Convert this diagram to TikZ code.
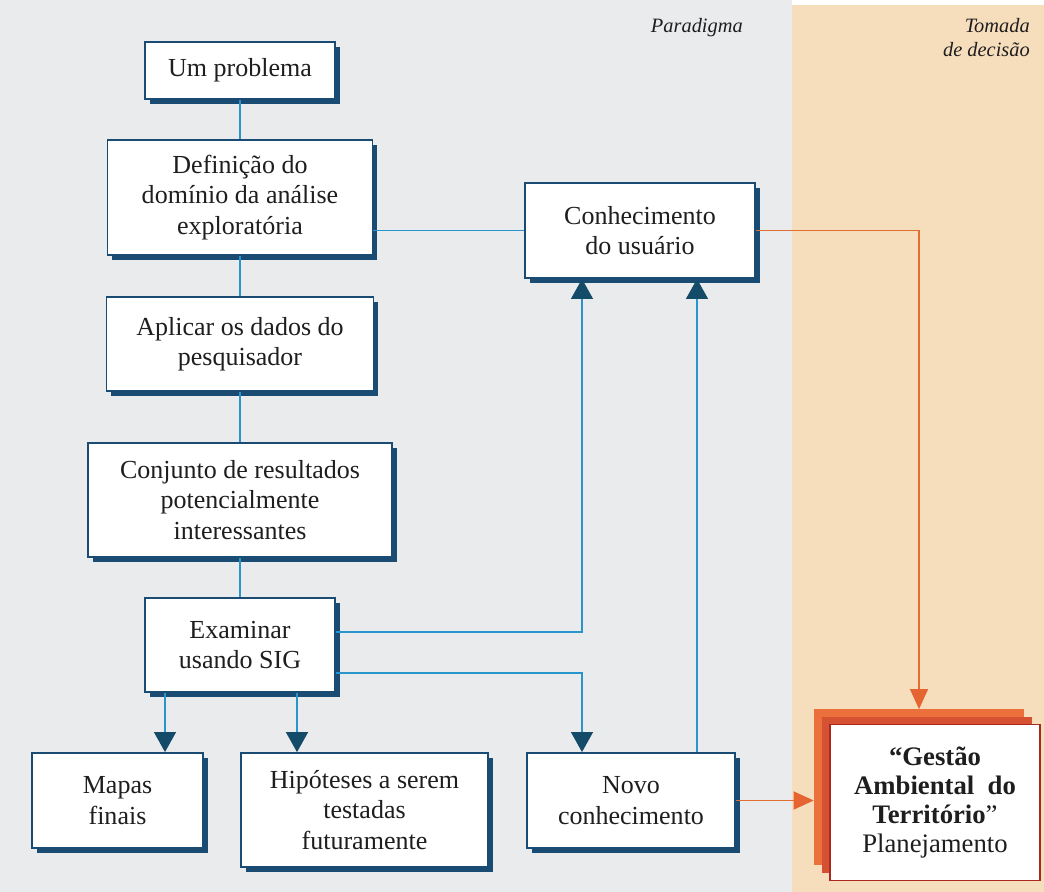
\documentclass[tikz,border=0pt]{standalone}
\usepackage{fontspec}
\setmainfont{Liberation Serif}
\usetikzlibrary{arrows.meta,shadows,calc}
\definecolor{boxblue}{RGB}{25,75,115}
\definecolor{lineblue}{RGB}{40,150,205}
\definecolor{tipblue}{RGB}{20,75,105}
\definecolor{paper}{RGB}{233,235,236}
\definecolor{sand}{RGB}{246,221,188}
\definecolor{lineorange}{RGB}{225,110,50}
\definecolor{tiporange}{RGB}{228,100,50}
\definecolor{layerorange}{RGB}{236,112,60}
\definecolor{layerred}{RGB}{214,80,50}
\definecolor{framered}{RGB}{170,40,30}
\definecolor{ink}{RGB}{30,30,30}

\begin{document}
\begin{tikzpicture}[x=0.025cm,y=-0.025cm,
    box/.style={draw=boxblue,line width=1.2pt,fill=white,align=center,
      inner sep=0pt,text=ink,font=\fontsize{18.5}{21.5}\selectfont,
      drop shadow={shadow xshift=0.12cm,shadow yshift=-0.12cm,
        fill=boxblue,opacity=1}},
    link/.style={draw=lineblue,line width=0.9pt},
    arr/.style={link,-{Triangle[width=0.55cm,length=0.5cm,color=tipblue]}},
    orangearr/.style={draw=lineorange,line width=0.9pt,
      -{Triangle[width=0.45cm,length=0.5cm,color=tiporange]}},
    layer/.style={minimum width=5.25cm,minimum height=3.88cm,inner sep=0pt},
    tag/.style={font=\fontsize{14.5}{17}\selectfont\itshape,text=ink,
      align=right,inner sep=0pt}]
        % Background
        \useasboundingbox (0,0) rectangle (1044,892);
        \fill[paper] (0,0) rectangle (792,892);
        \fill[sand] (792,5) rectangle (1044,892);
        \node[tag,anchor=east] (para) at (743,28) {Paradigma};
        \node[tag,anchor=north east] (toma) at (1030,18)
          {Tomada\\de decisão};
        % Boxes
        \node[box,minimum width=4.75cm,minimum height=1.43cm]
          (prob) at (240,70.5) {Um problema};
        \node[box,minimum width=6.63cm,minimum height=2.88cm]
          (def) at (240,197.5) {Definição do\\domínio da análise\\exploratória};
        \node[box,minimum width=5.75cm,minimum height=2.38cm]
          (conh) at (640,230.5) {Conhecimento\\do usuário};
        \node[box,minimum width=6.68cm,minimum height=2.35cm]
          (apl) at (240,344) {Aplicar os dados do\\pesquisador};
        \node[box,minimum width=7.6cm,minimum height=2.85cm]
          (conj) at (240,500) {Conjunto de resultados\\potencialmente\\interessantes};
        \node[box,minimum width=4.75cm,minimum height=2.35cm]
          (exam) at (240,645) {Examinar\\usando SIG};
        \node[box,minimum width=4.28cm,minimum height=2.38cm]
          (mapas) at (117.5,800.5) {Mapas\\finais};
        \node[box,minimum width=6.18cm,minimum height=2.85cm]
          (hip) at (364.5,810) {Hipóteses a serem\\testadas\\futuramente};
        \node[box,minimum width=5.2cm,minimum height=2.38cm]
          (novo) at (631,800.5) {Novo\\conhecimento};
        % Decision stack
        \node[layer,fill=layerorange] (gback) at (919,787) {};
        \node[layer,fill=layerred] (gmid) at (927,795) {};
        \node[layer,draw=framered,line width=0.8pt,fill=white,align=center,
          text=ink,font=\fontsize{19}{20.5}\selectfont]
          (gest) at (935,802.5)
          {\textbf{“Gestão}\\\textbf{Ambiental\ \ do}\\\textbf{Território}”\\Planejamento};
        % Main chain
        \draw[link] (prob) -- (def);
        \draw[link] (def) -- (apl);
        \draw[link] (apl) -- (conj);
        \draw[link] (conj) -- (exam);
        \draw[link] (def.east |- conh.west) -- (conh.west);
        % Feedback to user knowledge
        \coordinate (k1) at ($(conh.south)+(-58,0)$);
        \coordinate (k2) at ($(novo.north)+(66,0)$);
        \draw[arr] ($(exam.east)+(0,-13)$) -| (k1);
        \draw[arr] (k2) -- (k2 |- conh.south);
        % Results
        \coordinate (e1) at ($(exam.south)+(-75,0)$);
        \coordinate (e2) at ($(exam.south)+(57,0)$);
        \draw[arr] (e1) -- (e1 |- mapas.north);
        \draw[arr] (e2) -- (e2 |- hip.north);
        \draw[arr] ($(exam.east)+(0,28)$) -| ($(novo.north)+(-49,0)$);
        % Towards decision
        \draw[orangearr] (conh.east) -| (gback.north);
        \draw[orangearr] (novo.east) -- (novo.east -| gback.west);
\end{tikzpicture}
\end{document}
